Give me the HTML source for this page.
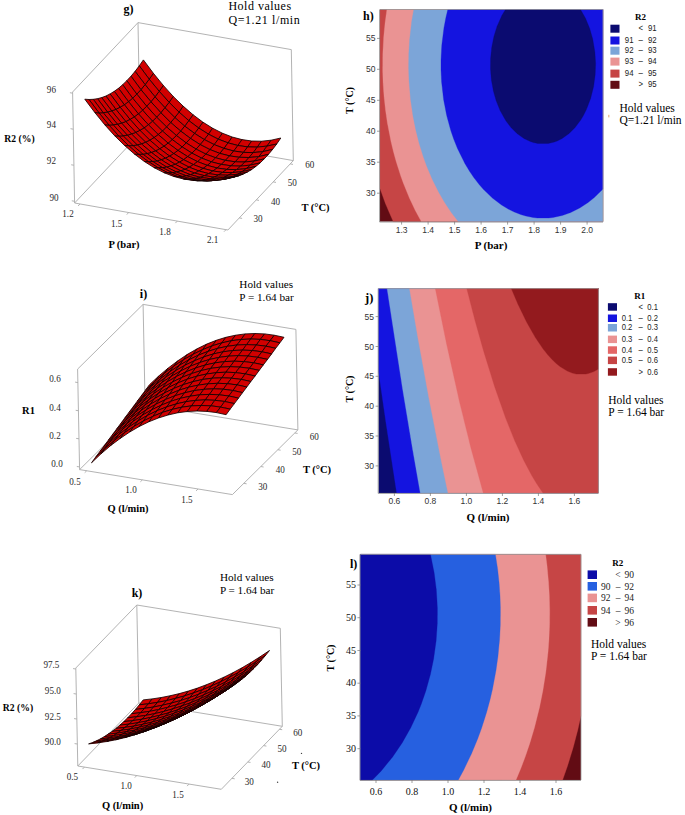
<!DOCTYPE html>
<html><head><meta charset="utf-8"><style>
html,body{margin:0;padding:0;background:#fff;}
body{width:685px;height:815px;overflow:hidden;}
svg{display:block;}
</style></head><body>
<svg width="685" height="815" viewBox="0 0 685 815">
<rect width="685" height="815" fill="#fff"/>
<rect x="380" y="9.5" width="223.00" height="212.10" fill="#620c14"/>
<path d="M380.0,9.5 380.0,188.5 385.4,203.5 393.2,221.6 603.0,221.6 603.0,9.5Z" fill="#c64545" stroke="#c64545" stroke-width="0.3"/>
<path d="M386.9,9.5 385.0,23.5 383.7,37.0 382.8,54.0 382.7,71.5 383.1,83.0 384.0,96.0 385.5,110.0 387.4,123.0 391.0,141.5 393.4,151.5 396.0,161.0 400.6,175.5 403.1,182.5 409.4,198.0 415.3,210.5 421.3,221.6 603.0,221.6 603.0,9.5Z" fill="#ea9393" stroke="#ea9393" stroke-width="0.3"/>
<path d="M413.8,9.5 411.7,21.5 409.6,40.0 408.8,53.5 408.6,67.0 409.0,80.5 410.6,99.5 413.0,116.0 415.7,129.5 419.1,143.0 423.1,156.0 426.7,166.0 432.4,179.5 438.9,192.5 445.0,203.0 451.7,213.0 458.3,221.6 603.0,221.6 603.0,9.5Z" fill="#7ca5d8" stroke="#7ca5d8" stroke-width="0.3"/>
<path d="M447.8,9.5 445.8,18.0 444.0,27.5 441.8,45.0 441.0,60.0 441.0,69.5 441.6,82.0 443.6,99.5 446.7,115.5 450.8,130.5 453.7,139.0 457.5,148.5 464.9,163.5 469.4,171.0 473.8,177.5 479.2,184.5 483.6,189.5 492.4,198.0 501.6,205.0 508.2,209.0 514.3,212.0 520.7,214.5 525.8,216.0 533.1,217.5 537.5,218.0 548.7,218.0 553.0,217.5 562.2,215.5 570.7,212.5 579.7,208.0 588.1,202.5 594.3,197.5 603.0,189.0 603.0,9.5Z" fill="#1414e0" stroke="#1414e0" stroke-width="0.3"/>
<path d="M505.5,9.5 501.9,15.5 497.0,26.5 493.9,36.5 491.7,47.5 490.6,58.5 490.5,69.0 491.4,80.0 493.4,91.0 496.1,100.5 500.1,110.5 505.7,120.5 511.0,127.5 517.0,133.5 524.0,138.5 530.3,141.5 533.3,142.5 537.9,143.5 548.2,143.5 554.4,142.0 557.1,141.0 562.1,138.5 569.1,133.5 575.1,127.5 580.7,120.0 583.4,115.5 586.4,109.5 590.6,98.5 593.6,86.5 595.2,74.5 595.6,63.5 594.9,52.0 592.7,39.0 589.7,28.5 585.6,18.5 580.5,9.5Z" fill="#0b0b70" stroke="#0b0b70" stroke-width="0.3"/>
<rect x="378.6" y="288.6" width="219.80" height="204.40" fill="#0b0b70"/>
<path d="M378.6,288.6 378.6,372.1 386.0,423.1 396.7,493.0 598.4,493.0 598.4,288.6Z" fill="#1414e0" stroke="#1414e0" stroke-width="0.3"/>
<path d="M387.1,288.6 402.7,389.6 412.5,448.6 420.3,493.0 598.4,493.0 598.4,288.6Z" fill="#7ca5d8" stroke="#7ca5d8" stroke-width="0.3"/>
<path d="M409.5,288.6 417.6,336.1 428.9,398.1 441.7,463.1 448.0,493.0 598.4,493.0 598.4,288.6Z" fill="#ea9393" stroke="#ea9393" stroke-width="0.3"/>
<path d="M435.3,288.6 446.5,343.6 459.7,402.6 471.2,449.1 483.3,493.0 598.4,493.0 598.4,288.6Z" fill="#e46767" stroke="#e46767" stroke-width="0.3"/>
<path d="M466.8,288.6 474.9,320.1 483.6,351.1 494.6,386.6 505.3,417.1 514.9,441.1 523.6,460.1 531.8,475.6 536.6,483.6 543.0,493.0 598.4,493.0 598.4,288.6Z" fill="#c64545" stroke="#c64545" stroke-width="0.3"/>
<path d="M511.3,288.6 517.9,304.1 526.6,322.1 535.4,337.6 543.2,349.1 548.0,355.1 552.1,359.6 556.3,363.6 560.0,366.6 567.3,371.1 572.3,373.1 576.4,374.1 585.8,374.1 588.2,373.6 593.9,371.6 598.4,369.1 598.4,288.6Z" fill="#931a1e" stroke="#931a1e" stroke-width="0.3"/>
<rect x="360.4" y="554.4" width="220.60" height="225.60" fill="#620c14"/>
<path d="M360.4,554.4 360.4,780.0 562.6,780.0 567.7,765.4 573.2,747.4 577.8,729.9 581.0,715.4 581.0,554.4Z" fill="#c64545" stroke="#c64545" stroke-width="0.3"/>
<path d="M360.4,554.4 360.4,780.0 516.0,779.9 521.2,767.4 525.5,755.9 529.9,742.9 534.5,727.4 539.6,706.9 543.0,689.9 545.9,671.4 548.1,651.4 549.0,638.9 549.6,623.9 549.7,609.9 549.3,594.9 548.6,582.9 547.1,566.4 545.6,554.4Z" fill="#ea9393" stroke="#ea9393" stroke-width="0.3"/>
<path d="M360.4,554.4 360.4,780.0 458.3,779.9 463.7,769.9 471.6,753.4 477.8,738.4 481.8,727.4 486.7,711.9 490.2,698.9 492.4,689.4 495.9,670.9 498.0,655.9 499.6,638.9 500.3,624.9 500.4,607.4 500.0,595.9 499.1,582.9 497.6,568.9 495.4,554.4Z" fill="#2660e0" stroke="#2660e0" stroke-width="0.3"/>
<path d="M360.4,554.4 360.4,780.0 372.4,780.0 381.2,770.9 392.6,756.9 402.1,742.9 410.6,727.9 418.1,711.9 421.3,703.9 425.8,690.9 430.5,673.9 433.6,658.9 436.1,640.9 437.3,623.4 437.4,607.9 436.3,589.4 434.1,572.4 430.5,554.4Z" fill="#0c0ca8" stroke="#0c0ca8" stroke-width="0.3"/>
<path d="M380,9.5 L603,9.5 L603,221.6" fill="none" stroke="#999" stroke-width="0.8"/>
<path d="M379.6,9.5 V222.0 H603" fill="none" stroke="#888" stroke-width="0.8"/>
<text x="401.6" y="232.5" font-family="Liberation Sans" font-size="8.5" text-anchor="middle" fill="#333">1.3</text>
<text x="428.1" y="232.5" font-family="Liberation Sans" font-size="8.5" text-anchor="middle" fill="#333">1.4</text>
<text x="454.6" y="232.5" font-family="Liberation Sans" font-size="8.5" text-anchor="middle" fill="#333">1.5</text>
<text x="481.1" y="232.5" font-family="Liberation Sans" font-size="8.5" text-anchor="middle" fill="#333">1.6</text>
<text x="507.6" y="232.5" font-family="Liberation Sans" font-size="8.5" text-anchor="middle" fill="#333">1.7</text>
<text x="534.1" y="232.5" font-family="Liberation Sans" font-size="8.5" text-anchor="middle" fill="#333">1.8</text>
<text x="560.6" y="232.5" font-family="Liberation Sans" font-size="8.5" text-anchor="middle" fill="#333">1.9</text>
<text x="587.1" y="232.5" font-family="Liberation Sans" font-size="8.5" text-anchor="middle" fill="#333">2.0</text>
<text x="375.5" y="196.2" font-family="Liberation Sans" font-size="8.5" text-anchor="end" fill="#333">30</text>
<text x="375.5" y="165.2" font-family="Liberation Sans" font-size="8.5" text-anchor="end" fill="#333">35</text>
<text x="375.5" y="134.2" font-family="Liberation Sans" font-size="8.5" text-anchor="end" fill="#333">40</text>
<text x="375.5" y="103.3" font-family="Liberation Sans" font-size="8.5" text-anchor="end" fill="#333">45</text>
<text x="375.5" y="72.3" font-family="Liberation Sans" font-size="8.5" text-anchor="end" fill="#333">50</text>
<text x="375.5" y="41.4" font-family="Liberation Sans" font-size="8.5" text-anchor="end" fill="#333">55</text>
<path d="M401.6,221.6 v3 M428.1,221.6 v3 M454.6,221.6 v3 M481.1,221.6 v3 M507.6,221.6 v3 M534.1,221.6 v3 M560.6,221.6 v3 M587.1,221.6 v3 M380,193.2 h-3 M380,162.2 h-3 M380,131.2 h-3 M380,100.3 h-3 M380,69.3 h-3 M380,38.4 h-3" stroke="#777" stroke-width="0.7"/>
<path d="M378.6,288.6 L598.4,288.6 L598.4,493" fill="none" stroke="#999" stroke-width="0.8"/>
<path d="M378.20000000000005,288.6 V493.4 H598.4" fill="none" stroke="#888" stroke-width="0.8"/>
<text x="394.4" y="504.0" font-family="Liberation Sans" font-size="8.5" text-anchor="middle" fill="#333">0.6</text>
<text x="430.4" y="504.0" font-family="Liberation Sans" font-size="8.5" text-anchor="middle" fill="#333">0.8</text>
<text x="466.4" y="504.0" font-family="Liberation Sans" font-size="8.5" text-anchor="middle" fill="#333">1.0</text>
<text x="502.4" y="504.0" font-family="Liberation Sans" font-size="8.5" text-anchor="middle" fill="#333">1.2</text>
<text x="538.4" y="504.0" font-family="Liberation Sans" font-size="8.5" text-anchor="middle" fill="#333">1.4</text>
<text x="574.4" y="504.0" font-family="Liberation Sans" font-size="8.5" text-anchor="middle" fill="#333">1.6</text>
<text x="374.0" y="468.9" font-family="Liberation Sans" font-size="8.5" text-anchor="end" fill="#333">30</text>
<text x="374.0" y="439.0" font-family="Liberation Sans" font-size="8.5" text-anchor="end" fill="#333">35</text>
<text x="374.0" y="409.2" font-family="Liberation Sans" font-size="8.5" text-anchor="end" fill="#333">40</text>
<text x="374.0" y="379.3" font-family="Liberation Sans" font-size="8.5" text-anchor="end" fill="#333">45</text>
<text x="374.0" y="349.5" font-family="Liberation Sans" font-size="8.5" text-anchor="end" fill="#333">50</text>
<text x="374.0" y="319.6" font-family="Liberation Sans" font-size="8.5" text-anchor="end" fill="#333">55</text>
<path d="M394.4,493 v3 M430.4,493 v3 M466.4,493 v3 M502.4,493 v3 M538.4,493 v3 M574.4,493 v3 M378.6,465.9 h-3 M378.6,436.0 h-3 M378.6,406.2 h-3 M378.6,376.3 h-3 M378.6,346.5 h-3 M378.6,316.6 h-3" stroke="#777" stroke-width="0.7"/>
<path d="M360.4,554.4 L581,554.4 L581,780" fill="none" stroke="#999" stroke-width="0.8"/>
<path d="M360.0,554.4 V780.4 H581" fill="none" stroke="#888" stroke-width="0.8"/>
<text x="376.0" y="794.5" font-family="Liberation Serif" font-size="10" text-anchor="middle" fill="#111">0.6</text>
<text x="412.0" y="794.5" font-family="Liberation Serif" font-size="10" text-anchor="middle" fill="#111">0.8</text>
<text x="448.0" y="794.5" font-family="Liberation Serif" font-size="10" text-anchor="middle" fill="#111">1.0</text>
<text x="484.0" y="794.5" font-family="Liberation Serif" font-size="10" text-anchor="middle" fill="#111">1.2</text>
<text x="520.0" y="794.5" font-family="Liberation Serif" font-size="10" text-anchor="middle" fill="#111">1.4</text>
<text x="556.0" y="794.5" font-family="Liberation Serif" font-size="10" text-anchor="middle" fill="#111">1.6</text>
<text x="356.0" y="751.7" font-family="Liberation Serif" font-size="10" text-anchor="end" fill="#111">30</text>
<text x="356.0" y="718.9" font-family="Liberation Serif" font-size="10" text-anchor="end" fill="#111">35</text>
<text x="356.0" y="686.2" font-family="Liberation Serif" font-size="10" text-anchor="end" fill="#111">40</text>
<text x="356.0" y="653.5" font-family="Liberation Serif" font-size="10" text-anchor="end" fill="#111">45</text>
<text x="356.0" y="620.7" font-family="Liberation Serif" font-size="10" text-anchor="end" fill="#111">50</text>
<text x="356.0" y="588.0" font-family="Liberation Serif" font-size="10" text-anchor="end" fill="#111">55</text>
<path d="M376.0,780 v3 M412.0,780 v3 M448.0,780 v3 M484.0,780 v3 M520.0,780 v3 M556.0,780 v3 M360.4,748.7 h-3 M360.4,715.9 h-3 M360.4,683.2 h-3 M360.4,650.5 h-3 M360.4,617.7 h-3 M360.4,585.0 h-3" stroke="#777" stroke-width="0.7"/>
<text x="363.0" y="20.0" font-family="Liberation Serif" font-size="12" font-weight="bold">h)</text>
<text x="491.0" y="248.5" font-family="Liberation Serif" font-size="11" font-weight="bold" text-anchor="middle">P (bar)</text>
<text x="488.0" y="520.5" font-family="Liberation Serif" font-size="11" font-weight="bold" text-anchor="middle">Q (l/min)</text>
<text x="470.5" y="811.0" font-family="Liberation Serif" font-size="11" font-weight="bold" text-anchor="middle">Q (l/min)</text>
<text x="365.0" y="301.5" font-family="Liberation Serif" font-size="12.5" font-weight="bold">j)</text>
<text x="350.0" y="568.0" font-family="Liberation Serif" font-size="12" font-weight="bold">l)</text>
<text x="352.5" y="100.5" font-family="Liberation Serif" font-size="10" font-weight="bold" text-anchor="middle" transform="rotate(-90 352.5 100.5)">T (°C)</text>
<text x="353" y="389" font-family="Liberation Serif" font-size="10" font-weight="bold" text-anchor="middle" transform="rotate(-90 353 389)">T (°C)</text>
<text x="333.5" y="658" font-family="Liberation Serif" font-size="10" font-weight="bold" text-anchor="middle" transform="rotate(-90 333.5 658)">T (°C)</text>
<text x="640.5" y="19.5" font-family="Liberation Serif" font-size="9" font-weight="bold" text-anchor="middle">R2</text>
<rect x="610.4" y="24.7" width="9.1" height="8" fill="#0b0b70"/>
<text transform="translate(640.7,31.3) scale(0.85,1)" font-family="Liberation Sans" font-size="9.2" text-anchor="middle" fill="#222">&lt;</text>
<text transform="translate(656.6,31.3) scale(0.85,1)" font-family="Liberation Sans" font-size="9.2" text-anchor="end" fill="#222">91</text>
<rect x="610.4" y="36.5" width="9.1" height="8" fill="#1414e0"/>
<text transform="translate(633.5,43.1) scale(0.85,1)" font-family="Liberation Sans" font-size="9.2" text-anchor="end" fill="#222">91</text>
<text transform="translate(640.7,43.1) scale(0.85,1)" font-family="Liberation Sans" font-size="9.2" text-anchor="middle" fill="#222">–</text>
<text transform="translate(656.6,43.1) scale(0.85,1)" font-family="Liberation Sans" font-size="9.2" text-anchor="end" fill="#222">92</text>
<rect x="610.4" y="46.7" width="9.1" height="8" fill="#7ca5d8"/>
<text transform="translate(633.5,53.3) scale(0.85,1)" font-family="Liberation Sans" font-size="9.2" text-anchor="end" fill="#222">92</text>
<text transform="translate(640.7,53.3) scale(0.85,1)" font-family="Liberation Sans" font-size="9.2" text-anchor="middle" fill="#222">–</text>
<text transform="translate(656.6,53.3) scale(0.85,1)" font-family="Liberation Sans" font-size="9.2" text-anchor="end" fill="#222">93</text>
<rect x="610.4" y="57.6" width="9.1" height="8" fill="#ea9393"/>
<text transform="translate(633.5,64.2) scale(0.85,1)" font-family="Liberation Sans" font-size="9.2" text-anchor="end" fill="#222">93</text>
<text transform="translate(640.7,64.2) scale(0.85,1)" font-family="Liberation Sans" font-size="9.2" text-anchor="middle" fill="#222">–</text>
<text transform="translate(656.6,64.2) scale(0.85,1)" font-family="Liberation Sans" font-size="9.2" text-anchor="end" fill="#222">94</text>
<rect x="610.4" y="69.6" width="9.1" height="8" fill="#c64545"/>
<text transform="translate(633.5,76.2) scale(0.85,1)" font-family="Liberation Sans" font-size="9.2" text-anchor="end" fill="#222">94</text>
<text transform="translate(640.7,76.2) scale(0.85,1)" font-family="Liberation Sans" font-size="9.2" text-anchor="middle" fill="#222">–</text>
<text transform="translate(656.6,76.2) scale(0.85,1)" font-family="Liberation Sans" font-size="9.2" text-anchor="end" fill="#222">95</text>
<rect x="610.4" y="80.8" width="9.1" height="8" fill="#620c14"/>
<text transform="translate(640.7,87.4) scale(0.85,1)" font-family="Liberation Sans" font-size="9.2" text-anchor="middle" fill="#222">&gt;</text>
<text transform="translate(656.6,87.4) scale(0.85,1)" font-family="Liberation Sans" font-size="9.2" text-anchor="end" fill="#222">95</text>
<text x="619.5" y="111.5" font-family="Liberation Serif" font-size="11.5">Hold values</text>
<text x="619.5" y="123.5" font-family="Liberation Serif" font-size="11.5">Q=1.21 l/min</text>
<text x="639.7" y="298.5" font-family="Liberation Serif" font-size="9" font-weight="bold" text-anchor="middle">R1</text>
<rect x="607.9" y="303.2" width="9.1" height="7.5" fill="#0b0b70"/>
<text transform="translate(640.7,309.5) scale(0.85,1)" font-family="Liberation Sans" font-size="9" text-anchor="middle" fill="#222">&lt;</text>
<text transform="translate(658.0,309.5) scale(0.85,1)" font-family="Liberation Sans" font-size="9" text-anchor="end" fill="#222">0.1</text>
<rect x="607.9" y="314.5" width="9.1" height="7.5" fill="#1414e0"/>
<text transform="translate(632.3,320.8) scale(0.85,1)" font-family="Liberation Sans" font-size="9" text-anchor="end" fill="#222">0.1</text>
<text transform="translate(640.7,320.8) scale(0.85,1)" font-family="Liberation Sans" font-size="9" text-anchor="middle" fill="#222">–</text>
<text transform="translate(658.0,320.8) scale(0.85,1)" font-family="Liberation Sans" font-size="9" text-anchor="end" fill="#222">0.2</text>
<rect x="607.9" y="324" width="9.1" height="7.5" fill="#7ca5d8"/>
<text transform="translate(632.3,330.3) scale(0.85,1)" font-family="Liberation Sans" font-size="9" text-anchor="end" fill="#222">0.2</text>
<text transform="translate(640.7,330.3) scale(0.85,1)" font-family="Liberation Sans" font-size="9" text-anchor="middle" fill="#222">–</text>
<text transform="translate(658.0,330.3) scale(0.85,1)" font-family="Liberation Sans" font-size="9" text-anchor="end" fill="#222">0.3</text>
<rect x="607.9" y="335.6" width="9.1" height="7.5" fill="#ea9393"/>
<text transform="translate(632.3,341.9) scale(0.85,1)" font-family="Liberation Sans" font-size="9" text-anchor="end" fill="#222">0.3</text>
<text transform="translate(640.7,341.9) scale(0.85,1)" font-family="Liberation Sans" font-size="9" text-anchor="middle" fill="#222">–</text>
<text transform="translate(658.0,341.9) scale(0.85,1)" font-family="Liberation Sans" font-size="9" text-anchor="end" fill="#222">0.4</text>
<rect x="607.9" y="346.3" width="9.1" height="7.5" fill="#e46767"/>
<text transform="translate(632.3,352.6) scale(0.85,1)" font-family="Liberation Sans" font-size="9" text-anchor="end" fill="#222">0.4</text>
<text transform="translate(640.7,352.6) scale(0.85,1)" font-family="Liberation Sans" font-size="9" text-anchor="middle" fill="#222">–</text>
<text transform="translate(658.0,352.6) scale(0.85,1)" font-family="Liberation Sans" font-size="9" text-anchor="end" fill="#222">0.5</text>
<rect x="607.9" y="356.6" width="9.1" height="7.5" fill="#c64545"/>
<text transform="translate(632.3,362.9) scale(0.85,1)" font-family="Liberation Sans" font-size="9" text-anchor="end" fill="#222">0.5</text>
<text transform="translate(640.7,362.9) scale(0.85,1)" font-family="Liberation Sans" font-size="9" text-anchor="middle" fill="#222">–</text>
<text transform="translate(658.0,362.9) scale(0.85,1)" font-family="Liberation Sans" font-size="9" text-anchor="end" fill="#222">0.6</text>
<rect x="607.9" y="368.2" width="9.1" height="7.5" fill="#931a1e"/>
<text transform="translate(640.7,374.5) scale(0.85,1)" font-family="Liberation Sans" font-size="9" text-anchor="middle" fill="#222">&gt;</text>
<text transform="translate(658.0,374.5) scale(0.85,1)" font-family="Liberation Sans" font-size="9" text-anchor="end" fill="#222">0.6</text>
<text x="608.3" y="403.8" font-family="Liberation Serif" font-size="11.5">Hold values</text>
<text x="608.3" y="415.8" font-family="Liberation Serif" font-size="11.5">P = 1.64 bar</text>
<text x="617.8" y="565.5" font-family="Liberation Serif" font-size="9" font-weight="bold" text-anchor="middle">R2</text>
<rect x="587.6" y="570.4" width="9.4" height="8.6" fill="#0c0ca8"/>
<text x="618.0" y="578.0" font-family="Liberation Serif" font-size="9.5" text-anchor="middle" fill="#222">&lt;</text>
<text x="634.0" y="578.0" font-family="Liberation Serif" font-size="9.5" text-anchor="end" fill="#222">90</text>
<rect x="587.6" y="582" width="9.4" height="8.6" fill="#2660e0"/>
<text x="610.4" y="589.6" font-family="Liberation Serif" font-size="9.5" text-anchor="end" fill="#222">90</text>
<text x="618.0" y="589.6" font-family="Liberation Serif" font-size="9.5" text-anchor="middle" fill="#222">–</text>
<text x="634.0" y="589.6" font-family="Liberation Serif" font-size="9.5" text-anchor="end" fill="#222">92</text>
<rect x="587.6" y="593.6" width="9.4" height="8.6" fill="#ea9393"/>
<text x="610.4" y="601.2" font-family="Liberation Serif" font-size="9.5" text-anchor="end" fill="#222">92</text>
<text x="618.0" y="601.2" font-family="Liberation Serif" font-size="9.5" text-anchor="middle" fill="#222">–</text>
<text x="634.0" y="601.2" font-family="Liberation Serif" font-size="9.5" text-anchor="end" fill="#222">94</text>
<rect x="587.6" y="606" width="9.4" height="8.6" fill="#c64545"/>
<text x="610.4" y="613.6" font-family="Liberation Serif" font-size="9.5" text-anchor="end" fill="#222">94</text>
<text x="618.0" y="613.6" font-family="Liberation Serif" font-size="9.5" text-anchor="middle" fill="#222">–</text>
<text x="634.0" y="613.6" font-family="Liberation Serif" font-size="9.5" text-anchor="end" fill="#222">96</text>
<rect x="587.6" y="618" width="9.4" height="8.6" fill="#620c14"/>
<text x="618.0" y="625.6" font-family="Liberation Serif" font-size="9.5" text-anchor="middle" fill="#222">&gt;</text>
<text x="634.0" y="625.6" font-family="Liberation Serif" font-size="9.5" text-anchor="end" fill="#222">96</text>
<text x="591.0" y="648.3" font-family="Liberation Serif" font-size="11.5">Hold values</text>
<text x="591.0" y="660.3" font-family="Liberation Serif" font-size="11.5">P = 1.64 bar</text>
<path d="M74.6,203.0 L227.9,230.0 M227.9,230.0 L293.3,160.6 M293.3,160.6 L140.0,133.6 M140.0,133.6 L74.6,203.0 M74.6,203.0 L72.6,92.0 M72.6,92.0 L138.0,22.6 M138.0,22.6 L291.3,49.6 M140.0,133.6 L138.0,22.6 M293.3,160.6 L291.3,49.6 M80.0,204.0 L78.1,206.0 M128.7,212.5 L126.8,214.6 M177.3,221.1 L175.4,223.1 M226.0,229.7 L224.0,231.7 M239.3,217.9 L242.1,218.4 M256.3,199.9 L259.0,200.4 M273.2,181.9 L276.0,182.4 M290.2,163.9 L293.0,164.4 M74.6,201.3 L71.8,200.8 M73.9,165.2 L71.2,164.8 M73.3,129.2 L70.5,128.7 M72.6,93.2 L69.9,92.7" fill="none" stroke="#aaaaaa" stroke-width="0.9"/>
<g fill="#d20000" stroke="#150000" stroke-width="0.85" stroke-linejoin="round"><path d="M198.7,128.0 208.5,134.2 212.6,128.2 202.8,122.1Z"/><path d="M208.5,134.2 218.3,139.2 222.4,133.2 212.6,128.2Z"/><path d="M188.8,120.6 198.7,128.0 202.8,122.1 193.0,114.7Z"/><path d="M218.3,139.2 228.1,142.9 232.2,137.0 222.4,133.2Z"/><path d="M179.0,112.1 188.8,120.6 193.0,114.7 183.1,106.1Z"/><path d="M228.1,142.9 237.9,145.5 242.0,139.6 232.2,137.0Z"/><path d="M169.1,102.3 179.0,112.1 183.1,106.1 173.2,96.4Z"/><path d="M194.5,133.4 204.4,139.6 208.5,134.2 198.7,128.0Z"/><path d="M237.9,145.5 247.6,146.9 251.7,141.0 242.0,139.6Z"/><path d="M204.4,139.6 214.2,144.6 218.3,139.2 208.5,134.2Z"/><path d="M184.7,126.1 194.5,133.4 198.7,128.0 188.8,120.6Z"/><path d="M214.2,144.6 224.0,148.4 228.1,142.9 218.3,139.2Z"/><path d="M159.2,91.3 169.1,102.3 173.2,96.4 163.3,85.4Z"/><path d="M174.8,117.5 184.7,126.1 188.8,120.6 179.0,112.1Z"/><path d="M224.0,148.4 233.7,151.0 237.9,145.5 228.1,142.9Z"/><path d="M247.6,146.9 257.3,147.1 261.5,141.2 251.7,141.0Z"/><path d="M164.9,107.7 174.8,117.5 179.0,112.1 169.1,102.3Z"/><path d="M149.2,79.2 159.2,91.3 163.3,85.4 153.4,73.3Z"/><path d="M233.7,151.0 243.5,152.4 247.6,146.9 237.9,145.5Z"/><path d="M190.4,138.4 200.2,144.6 204.4,139.6 194.5,133.4Z"/><path d="M200.2,144.6 210.0,149.6 214.2,144.6 204.4,139.6Z"/><path d="M180.6,131.0 190.4,138.4 194.5,133.4 184.7,126.1Z"/><path d="M155.0,96.8 164.9,107.7 169.1,102.3 159.2,91.3Z"/><path d="M210.0,149.6 219.8,153.4 224.0,148.4 214.2,144.6Z"/><path d="M257.3,147.1 267.0,146.1 271.1,140.2 261.5,141.2Z"/><path d="M170.7,122.5 180.6,131.0 184.7,126.1 174.8,117.5Z"/><path d="M219.8,153.4 229.6,155.9 233.7,151.0 224.0,148.4Z"/><path d="M243.5,152.4 253.2,152.6 257.3,147.1 247.6,146.9Z"/><path d="M139.3,65.8 149.2,79.2 153.4,73.3 143.4,59.9Z"/><path d="M160.8,112.7 170.7,122.5 174.8,117.5 164.9,107.7Z"/><path d="M145.1,84.6 155.0,96.8 159.2,91.3 149.2,79.2Z"/><path d="M229.6,155.9 239.3,157.3 243.5,152.4 233.7,151.0Z"/><path d="M186.2,142.9 196.1,149.1 200.2,144.6 190.4,138.4Z"/><path d="M196.1,149.1 205.9,154.1 210.0,149.6 200.2,144.6Z"/><path d="M176.4,135.5 186.2,142.9 190.4,138.4 180.6,131.0Z"/><path d="M267.0,146.1 276.7,144.0 280.8,138.0 271.1,140.2Z"/><path d="M150.9,101.7 160.8,112.7 164.9,107.7 155.0,96.8Z"/><path d="M253.2,152.6 262.9,151.6 267.0,146.1 257.3,147.1Z"/><path d="M205.9,154.1 215.7,157.8 219.8,153.4 210.0,149.6Z"/><path d="M166.5,126.9 176.4,135.5 180.6,131.0 170.7,122.5Z"/><path d="M239.3,157.3 249.0,157.5 253.2,152.6 243.5,152.4Z"/><path d="M215.7,157.8 225.4,160.4 229.6,155.9 219.8,153.4Z"/><path d="M135.1,71.3 145.1,84.6 149.2,79.2 139.3,65.8Z"/><path d="M156.6,117.2 166.5,126.9 170.7,122.5 160.8,112.7Z"/><path d="M140.9,89.6 150.9,101.7 155.0,96.8 145.1,84.6Z"/><path d="M225.4,160.4 235.2,161.8 239.3,157.3 229.6,155.9Z"/><path d="M262.9,151.6 272.6,149.4 276.7,144.0 267.0,146.1Z"/><path d="M182.1,146.9 191.9,153.1 196.1,149.1 186.2,142.9Z"/><path d="M191.9,153.1 201.7,158.1 205.9,154.1 196.1,149.1Z"/><path d="M146.7,106.2 156.6,117.2 160.8,112.7 150.9,101.7Z"/><path d="M249.0,157.5 258.7,156.6 262.9,151.6 253.2,152.6Z"/><path d="M172.2,139.5 182.1,146.9 186.2,142.9 176.4,135.5Z"/><path d="M201.7,158.1 211.5,161.9 215.7,157.8 205.9,154.1Z"/><path d="M162.4,131.0 172.2,139.5 176.4,135.5 166.5,126.9Z"/><path d="M235.2,161.8 244.9,162.0 249.0,157.5 239.3,157.3Z"/><path d="M131.0,76.2 140.9,89.6 145.1,84.6 135.1,71.3Z"/><path d="M211.5,161.9 221.3,164.4 225.4,160.4 215.7,157.8Z"/><path d="M152.5,121.2 162.4,131.0 166.5,126.9 156.6,117.2Z"/><path d="M136.8,94.1 146.7,106.2 150.9,101.7 140.9,89.6Z"/><path d="M258.7,156.6 268.4,154.4 272.6,149.4 262.9,151.6Z"/><path d="M221.3,164.4 231.0,165.8 235.2,161.8 225.4,160.4Z"/><path d="M244.9,162.0 254.6,161.0 258.7,156.6 249.0,157.5Z"/><path d="M177.9,150.4 187.7,156.6 191.9,153.1 182.1,146.9Z"/><path d="M142.6,110.2 152.5,121.2 156.6,117.2 146.7,106.2Z"/><path d="M187.7,156.6 197.5,161.6 201.7,158.1 191.9,153.1Z"/><path d="M168.1,143.1 177.9,150.4 182.1,146.9 172.2,139.5Z"/><path d="M197.5,161.6 207.3,165.4 211.5,161.9 201.7,158.1Z"/><path d="M158.2,134.5 168.1,143.1 172.2,139.5 162.4,131.0Z"/><path d="M126.8,80.7 136.8,94.1 140.9,89.6 131.0,76.2Z"/><path d="M231.0,165.8 240.7,166.1 244.9,162.0 235.2,161.8Z"/><path d="M207.3,165.4 217.1,168.0 221.3,164.4 211.5,161.9Z"/><path d="M132.6,98.1 142.6,110.2 146.7,106.2 136.8,94.1Z"/><path d="M148.3,124.7 158.2,134.5 162.4,131.0 152.5,121.2Z"/><path d="M254.6,161.0 264.2,158.9 268.4,154.4 258.7,156.6Z"/><path d="M217.1,168.0 226.8,169.4 231.0,165.8 221.3,164.4Z"/><path d="M240.7,166.1 250.4,165.1 254.6,161.0 244.9,162.0Z"/><path d="M138.4,113.8 148.3,124.7 152.5,121.2 142.6,110.2Z"/><path d="M173.7,153.5 183.6,159.7 187.7,156.6 177.9,150.4Z"/><path d="M183.6,159.7 193.4,164.6 197.5,161.6 187.7,156.6Z"/><path d="M163.9,146.1 173.7,153.5 177.9,150.4 168.1,143.1Z"/><path d="M193.4,164.6 203.1,168.4 207.3,165.4 197.5,161.6Z"/><path d="M122.7,84.7 132.6,98.1 136.8,94.1 126.8,80.7Z"/><path d="M226.8,169.4 236.5,169.6 240.7,166.1 231.0,165.8Z"/><path d="M154.0,137.5 163.9,146.1 168.1,143.1 158.2,134.5Z"/><path d="M203.1,168.4 212.9,171.0 217.1,168.0 207.3,165.4Z"/><path d="M128.5,101.6 138.4,113.8 142.6,110.2 132.6,98.1Z"/><path d="M144.1,127.8 154.0,137.5 158.2,134.5 148.3,124.7Z"/><path d="M250.4,165.1 260.1,162.9 264.2,158.9 254.6,161.0Z"/><path d="M212.9,171.0 222.6,172.4 226.8,169.4 217.1,168.0Z"/><path d="M236.5,169.6 246.2,168.6 250.4,165.1 240.7,166.1Z"/><path d="M134.2,116.8 144.1,127.8 148.3,124.7 138.4,113.8Z"/><path d="M169.5,156.0 179.4,162.2 183.6,159.7 173.7,153.5Z"/><path d="M179.4,162.2 189.2,167.2 193.4,164.6 183.6,159.7Z"/><path d="M159.7,148.7 169.5,156.0 173.7,153.5 163.9,146.1Z"/><path d="M118.5,88.3 128.5,101.6 132.6,98.1 122.7,84.7Z"/><path d="M189.2,167.2 198.9,171.0 203.1,168.4 193.4,164.6Z"/><path d="M222.6,172.4 232.4,172.6 236.5,169.6 226.8,169.4Z"/><path d="M149.8,140.1 159.7,148.7 163.9,146.1 154.0,137.5Z"/><path d="M198.9,171.0 208.7,173.6 212.9,171.0 203.1,168.4Z"/><path d="M124.3,104.7 134.2,116.8 138.4,113.8 128.5,101.6Z"/><path d="M246.2,168.6 255.9,166.4 260.1,162.9 250.4,165.1Z"/><path d="M139.9,130.3 149.8,140.1 154.0,137.5 144.1,127.8Z"/><path d="M208.7,173.6 218.4,175.0 222.6,172.4 212.9,171.0Z"/><path d="M232.4,172.6 242.1,171.6 246.2,168.6 236.5,169.6Z"/><path d="M130.0,119.4 139.9,130.3 144.1,127.8 134.2,116.8Z"/><path d="M165.3,158.1 175.2,164.3 179.4,162.2 169.5,156.0Z"/><path d="M114.3,91.3 124.3,104.7 128.5,101.6 118.5,88.3Z"/><path d="M175.2,164.3 185.0,169.3 189.2,167.2 179.4,162.2Z"/><path d="M155.5,150.8 165.3,158.1 169.5,156.0 159.7,148.7Z"/><path d="M185.0,169.3 194.7,173.1 198.9,171.0 189.2,167.2Z"/><path d="M218.4,175.0 228.2,175.2 232.4,172.6 222.6,172.4Z"/><path d="M145.6,142.2 155.5,150.8 159.7,148.7 149.8,140.1Z"/><path d="M120.1,107.2 130.0,119.4 134.2,116.8 124.3,104.7Z"/><path d="M242.1,171.6 251.7,169.5 255.9,166.4 246.2,168.6Z"/><path d="M194.7,173.1 204.5,175.7 208.7,173.6 198.9,171.0Z"/><path d="M135.7,132.4 145.6,142.2 149.8,140.1 139.9,130.3Z"/><path d="M228.2,175.2 237.9,174.2 242.1,171.6 232.4,172.6Z"/><path d="M204.5,175.7 214.2,177.1 218.4,175.0 208.7,173.6Z"/><path d="M125.8,121.5 135.7,132.4 139.9,130.3 130.0,119.4Z"/><path d="M110.1,93.9 120.1,107.2 124.3,104.7 114.3,91.3Z"/><path d="M161.1,159.7 171.0,165.9 175.2,164.3 165.3,158.1Z"/><path d="M171.0,165.9 180.8,170.9 185.0,169.3 175.2,164.3Z"/><path d="M151.3,152.4 161.1,159.7 165.3,158.1 155.5,150.8Z"/><path d="M214.2,177.1 224.0,177.3 228.2,175.2 218.4,175.0Z"/><path d="M180.8,170.9 190.5,174.7 194.7,173.1 185.0,169.3Z"/><path d="M141.4,143.8 151.3,152.4 155.5,150.8 145.6,142.2Z"/><path d="M237.9,174.2 247.5,172.0 251.7,169.5 242.1,171.6Z"/><path d="M115.9,109.3 125.8,121.5 130.0,119.4 120.1,107.2Z"/><path d="M190.5,174.7 200.3,177.3 204.5,175.7 194.7,173.1Z"/><path d="M131.5,134.0 141.4,143.8 145.6,142.2 135.7,132.4Z"/><path d="M224.0,177.3 233.7,176.3 237.9,174.2 228.2,175.2Z"/><path d="M200.3,177.3 210.0,178.7 214.2,177.1 204.5,175.7Z"/><path d="M121.6,123.1 131.5,134.0 135.7,132.4 125.8,121.5Z"/><path d="M105.9,96.0 115.9,109.3 120.1,107.2 110.1,93.9Z"/><path d="M156.9,160.9 166.7,167.1 171.0,165.9 161.1,159.7Z"/><path d="M166.7,167.1 176.5,172.0 180.8,170.9 171.0,165.9Z"/><path d="M147.1,153.5 156.9,160.9 161.1,159.7 151.3,152.4Z"/><path d="M210.0,178.7 219.8,178.9 224.0,177.3 214.2,177.1Z"/><path d="M176.5,172.0 186.3,175.8 190.5,174.7 180.8,170.9Z"/><path d="M233.7,176.3 243.3,174.1 247.5,172.0 237.9,174.2Z"/><path d="M137.2,144.9 147.1,153.5 151.3,152.4 141.4,143.8Z"/><path d="M111.7,110.9 121.6,123.1 125.8,121.5 115.9,109.3Z"/><path d="M186.3,175.8 196.1,178.4 200.3,177.3 190.5,174.7Z"/><path d="M127.3,135.2 137.2,144.9 141.4,143.8 131.5,134.0Z"/><path d="M219.8,178.9 229.5,177.9 233.7,176.3 224.0,177.3Z"/><path d="M196.1,178.4 205.8,179.8 210.0,178.7 200.3,177.3Z"/><path d="M101.7,97.6 111.7,110.9 115.9,109.3 105.9,96.0Z"/><path d="M117.4,124.2 127.3,135.2 131.5,134.0 121.6,123.1Z"/><path d="M152.7,161.5 162.5,167.7 166.7,167.1 156.9,160.9Z"/><path d="M162.5,167.7 172.3,172.7 176.5,172.0 166.7,167.1Z"/><path d="M205.8,179.8 215.5,180.0 219.8,178.9 210.0,178.7Z"/><path d="M142.8,154.1 152.7,161.5 156.9,160.9 147.1,153.5Z"/><path d="M229.5,177.9 239.1,175.7 243.3,174.1 233.7,176.3Z"/><path d="M172.3,172.7 182.1,176.5 186.3,175.8 176.5,172.0Z"/><path d="M133.0,145.6 142.8,154.1 147.1,153.5 137.2,144.9Z"/><path d="M107.5,112.0 117.4,124.2 121.6,123.1 111.7,110.9Z"/><path d="M182.1,176.5 191.9,179.1 196.1,178.4 186.3,175.8Z"/><path d="M123.1,135.8 133.0,145.6 137.2,144.9 127.3,135.2Z"/><path d="M215.5,180.0 225.2,179.1 229.5,177.9 219.8,178.9Z"/><path d="M191.9,179.1 201.6,180.5 205.8,179.8 196.1,178.4Z"/><path d="M97.5,98.7 107.5,112.0 111.7,110.9 101.7,97.6Z"/><path d="M113.2,124.8 123.1,135.8 127.3,135.2 117.4,124.2Z"/><path d="M148.5,161.7 158.3,167.9 162.5,167.7 152.7,161.5Z"/><path d="M201.6,180.5 211.3,180.7 215.5,180.0 205.8,179.8Z"/><path d="M158.3,167.9 168.1,172.9 172.3,172.7 162.5,167.7Z"/><path d="M225.2,179.1 234.9,176.9 239.1,175.7 229.5,177.9Z"/><path d="M138.6,154.3 148.5,161.7 152.7,161.5 142.8,154.1Z"/><path d="M168.1,172.9 177.9,176.7 182.1,176.5 172.3,172.7Z"/><path d="M103.2,112.7 113.2,124.8 117.4,124.2 107.5,112.0Z"/><path d="M128.7,145.7 138.6,154.3 142.8,154.1 133.0,145.6Z"/><path d="M177.9,176.7 187.6,179.3 191.9,179.1 182.1,176.5Z"/><path d="M118.8,136.0 128.7,145.7 133.0,145.6 123.1,135.8Z"/><path d="M211.3,180.7 221.0,179.7 225.2,179.1 215.5,180.0Z"/><path d="M187.6,179.3 197.4,180.7 201.6,180.5 191.9,179.1Z"/><path d="M93.3,99.3 103.2,112.7 107.5,112.0 97.5,98.7Z"/><path d="M108.9,125.0 118.8,136.0 123.1,135.8 113.2,124.8Z"/><path d="M197.4,180.7 207.1,180.9 211.3,180.7 201.6,180.5Z"/><path d="M221.0,179.7 230.7,177.5 234.9,176.9 225.2,179.1Z"/><path d="M144.2,161.4 154.0,167.6 158.3,167.9 148.5,161.7Z"/><path d="M154.0,167.6 163.8,172.6 168.1,172.9 158.3,167.9Z"/><path d="M134.4,154.0 144.2,161.4 148.5,161.7 138.6,154.3Z"/><path d="M163.8,172.6 173.6,176.4 177.9,176.7 168.1,172.9Z"/><path d="M99.0,112.9 108.9,125.0 113.2,124.8 103.2,112.7Z"/><path d="M124.5,145.4 134.4,154.0 138.6,154.3 128.7,145.7Z"/><path d="M173.6,176.4 183.4,179.0 187.6,179.3 177.9,176.7Z"/><path d="M207.1,180.9 216.8,179.9 221.0,179.7 211.3,180.7Z"/><path d="M114.6,135.7 124.5,145.4 128.7,145.7 118.8,136.0Z"/><path d="M183.4,179.0 193.1,180.4 197.4,180.7 187.6,179.3Z"/><path d="M89.0,99.5 99.0,112.9 103.2,112.7 93.3,99.3Z"/><path d="M104.7,124.7 114.6,135.7 118.8,136.0 108.9,125.0Z"/><path d="M216.8,179.9 226.5,177.7 230.7,177.5 221.0,179.7Z"/><path d="M193.1,180.4 202.8,180.6 207.1,180.9 197.4,180.7Z"/><path d="M94.8,112.5 104.7,124.7 108.9,125.0 99.0,112.9Z"/><path d="M202.8,180.6 212.5,179.6 216.8,179.9 207.1,180.9Z"/><path d="M84.8,99.2 94.8,112.5 99.0,112.9 89.0,99.5Z"/><path d="M212.5,179.6 222.2,177.4 226.5,177.7 216.8,179.9Z"/></g>
<path d="M79.6,469.6 L232.4,494.6 M232.4,494.6 L297.9,429.9 M297.9,429.9 L145.1,404.9 M145.1,404.9 L79.6,469.6 M79.6,469.6 L77.6,369.1 M77.6,369.1 L143.1,304.4 M143.1,304.4 L295.9,329.4 M145.1,404.9 L143.1,304.4 M297.9,429.9 L295.9,329.4 M86.7,470.8 L84.7,472.7 M142.4,479.9 L140.4,481.8 M198.0,489.0 L196.1,490.9 M243.8,483.3 L246.6,483.8 M260.8,466.5 L263.6,467.0 M277.8,449.7 L280.6,450.2 M294.8,433.0 L297.6,433.4 M79.5,466.9 L76.8,466.5 M79.0,438.8 L76.2,438.4 M78.4,410.7 L75.7,410.3 M77.9,382.6 L75.1,382.1" fill="none" stroke="#aaaaaa" stroke-width="0.9"/>
<g fill="#d20000" stroke="#150000" stroke-width="0.85" stroke-linejoin="round"><path d="M145.3,390.4 154.8,381.5 158.9,375.9 149.4,384.8Z"/><path d="M141.1,396.0 150.6,387.0 154.8,381.5 145.3,390.4Z"/><path d="M154.8,381.5 164.3,373.4 168.4,367.9 158.9,375.9Z"/><path d="M137.0,401.5 146.5,392.6 150.6,387.0 141.1,396.0Z"/><path d="M150.6,387.0 160.2,379.0 164.3,373.4 154.8,381.5Z"/><path d="M132.9,407.1 142.4,398.2 146.5,392.6 137.0,401.5Z"/><path d="M164.3,373.4 173.8,366.2 178.0,360.7 168.4,367.9Z"/><path d="M146.5,392.6 156.0,384.5 160.2,379.0 150.6,387.0Z"/><path d="M128.7,412.7 138.2,403.7 142.4,398.2 132.9,407.1Z"/><path d="M160.2,379.0 169.7,371.8 173.8,366.2 164.3,373.4Z"/><path d="M142.4,398.2 151.9,390.1 156.0,384.5 146.5,392.6Z"/><path d="M124.6,418.2 134.1,409.3 138.2,403.7 128.7,412.7Z"/><path d="M173.8,366.2 183.4,359.8 187.5,354.3 178.0,360.7Z"/><path d="M156.0,384.5 165.6,377.3 169.7,371.8 160.2,379.0Z"/><path d="M138.2,403.7 147.8,395.7 151.9,390.1 142.4,398.2Z"/><path d="M120.5,423.8 130.0,414.9 134.1,409.3 124.6,418.2Z"/><path d="M169.7,371.8 179.3,365.4 183.4,359.8 173.8,366.2Z"/><path d="M151.9,390.1 161.4,382.9 165.6,377.3 156.0,384.5Z"/><path d="M134.1,409.3 143.6,401.2 147.8,395.7 138.2,403.7Z"/><path d="M116.3,429.4 125.8,420.4 130.0,414.9 120.5,423.8Z"/><path d="M183.4,359.8 193.0,354.3 197.1,348.8 187.5,354.3Z"/><path d="M165.6,377.3 175.1,371.0 179.3,365.4 169.7,371.8Z"/><path d="M147.8,395.7 157.3,388.4 161.4,382.9 151.9,390.1Z"/><path d="M130.0,414.9 139.5,406.8 143.6,401.2 134.1,409.3Z"/><path d="M112.2,434.9 121.7,426.0 125.8,420.4 116.3,429.4Z"/><path d="M179.3,365.4 188.8,359.9 193.0,354.3 183.4,359.8Z"/><path d="M161.4,382.9 171.0,376.5 175.1,371.0 165.6,377.3Z"/><path d="M193.0,354.3 202.6,349.7 206.7,344.1 197.1,348.8Z"/><path d="M143.6,401.2 153.2,394.0 157.3,388.4 147.8,395.7Z"/><path d="M125.8,420.4 135.3,412.4 139.5,406.8 130.0,414.9Z"/><path d="M108.1,440.5 117.6,431.6 121.7,426.0 112.2,434.9Z"/><path d="M175.1,371.0 184.7,365.4 188.8,359.9 179.3,365.4Z"/><path d="M157.3,388.4 166.8,382.1 171.0,376.5 161.4,382.9Z"/><path d="M188.8,359.9 198.4,355.2 202.6,349.7 193.0,354.3Z"/><path d="M139.5,406.8 149.0,399.6 153.2,394.0 143.6,401.2Z"/><path d="M202.6,349.7 212.2,345.8 216.3,340.3 206.7,344.1Z"/><path d="M121.7,426.0 131.2,417.9 135.3,412.4 125.8,420.4Z"/><path d="M103.9,446.1 113.4,437.1 117.6,431.6 108.1,440.5Z"/><path d="M171.0,376.5 180.6,371.0 184.7,365.4 175.1,371.0Z"/><path d="M153.2,394.0 162.7,387.6 166.8,382.1 157.3,388.4Z"/><path d="M184.7,365.4 194.3,360.8 198.4,355.2 188.8,359.9Z"/><path d="M135.3,412.4 144.9,405.1 149.0,399.6 139.5,406.8Z"/><path d="M198.4,355.2 208.0,351.4 212.2,345.8 202.6,349.7Z"/><path d="M117.6,431.6 127.1,423.5 131.2,417.9 121.7,426.0Z"/><path d="M99.8,451.6 109.3,442.7 113.4,437.1 103.9,446.1Z"/><path d="M166.8,382.1 176.4,376.5 180.6,371.0 171.0,376.5Z"/><path d="M212.2,345.8 221.8,342.9 225.9,337.3 216.3,340.3Z"/><path d="M149.0,399.6 158.6,393.2 162.7,387.6 153.2,394.0Z"/><path d="M180.6,371.0 190.1,366.3 194.3,360.8 184.7,365.4Z"/><path d="M131.2,417.9 140.8,410.7 144.9,405.1 135.3,412.4Z"/><path d="M194.3,360.8 203.9,356.9 208.0,351.4 198.4,355.2Z"/><path d="M113.4,437.1 122.9,429.0 127.1,423.5 117.6,431.6Z"/><path d="M95.6,457.2 105.2,448.3 109.3,442.7 99.8,451.6Z"/><path d="M162.7,387.6 172.3,382.1 176.4,376.5 166.8,382.1Z"/><path d="M208.0,351.4 217.6,348.4 221.8,342.9 212.2,345.8Z"/><path d="M221.8,342.9 231.4,340.7 235.6,335.2 225.9,337.3Z"/><path d="M144.9,405.1 154.4,398.7 158.6,393.2 149.0,399.6Z"/><path d="M176.4,376.5 186.0,371.9 190.1,366.3 180.6,371.0Z"/><path d="M127.1,423.5 136.6,416.2 140.8,410.7 131.2,417.9Z"/><path d="M109.3,442.7 118.8,434.6 122.9,429.0 113.4,437.1Z"/><path d="M190.1,366.3 199.8,362.5 203.9,356.9 194.3,360.8Z"/><path d="M91.5,462.8 101.0,453.8 105.2,448.3 95.6,457.2Z"/><path d="M158.6,393.2 168.1,387.6 172.3,382.1 162.7,387.6Z"/><path d="M203.9,356.9 213.5,353.9 217.6,348.4 208.0,351.4Z"/><path d="M231.4,340.7 241.1,339.5 245.2,333.9 235.6,335.2Z"/><path d="M217.6,348.4 227.3,346.3 231.4,340.7 221.8,342.9Z"/><path d="M140.8,410.7 150.3,404.3 154.4,398.7 144.9,405.1Z"/><path d="M172.3,382.1 181.9,377.4 186.0,371.9 176.4,376.5Z"/><path d="M122.9,429.0 132.5,421.8 136.6,416.2 127.1,423.5Z"/><path d="M105.2,448.3 114.7,440.2 118.8,434.6 109.3,442.7Z"/><path d="M186.0,371.9 195.6,368.0 199.8,362.5 190.1,366.3Z"/><path d="M154.4,398.7 164.0,393.2 168.1,387.6 158.6,393.2Z"/><path d="M241.1,339.5 250.7,339.0 254.9,333.5 245.2,333.9Z"/><path d="M199.8,362.5 209.4,359.5 213.5,353.9 203.9,356.9Z"/><path d="M227.3,346.3 236.9,345.0 241.1,339.5 231.4,340.7Z"/><path d="M213.5,353.9 223.1,351.8 227.3,346.3 217.6,348.4Z"/><path d="M136.6,416.2 146.2,409.9 150.3,404.3 140.8,410.7Z"/><path d="M168.1,387.6 177.7,383.0 181.9,377.4 172.3,382.1Z"/><path d="M118.8,434.6 128.3,427.4 132.5,421.8 122.9,429.0Z"/><path d="M250.7,339.0 260.4,339.4 264.6,333.9 254.9,333.5Z"/><path d="M101.0,453.8 110.5,445.7 114.7,440.2 105.2,448.3Z"/><path d="M181.9,377.4 191.5,373.6 195.6,368.0 186.0,371.9Z"/><path d="M150.3,404.3 159.9,398.8 164.0,393.2 154.4,398.7Z"/><path d="M236.9,345.0 246.6,344.6 250.7,339.0 241.1,339.5Z"/><path d="M195.6,368.0 205.2,365.0 209.4,359.5 199.8,362.5Z"/><path d="M223.1,351.8 232.8,350.5 236.9,345.0 227.3,346.3Z"/><path d="M209.4,359.5 219.0,357.4 223.1,351.8 213.5,353.9Z"/><path d="M132.5,421.8 142.0,415.4 146.2,409.9 136.6,416.2Z"/><path d="M260.4,339.4 270.1,340.7 274.3,335.2 264.6,333.9Z"/><path d="M164.0,393.2 173.6,388.5 177.7,383.0 168.1,387.6Z"/><path d="M114.7,440.2 124.2,432.9 128.3,427.4 118.8,434.6Z"/><path d="M246.6,344.6 256.3,345.0 260.4,339.4 250.7,339.0Z"/><path d="M177.7,383.0 187.3,379.1 191.5,373.6 181.9,377.4Z"/><path d="M270.1,340.7 279.9,342.8 284.0,337.3 274.3,335.2Z"/><path d="M146.2,409.9 155.7,404.3 159.9,398.8 150.3,404.3Z"/><path d="M232.8,350.5 242.5,350.1 246.6,344.6 236.9,345.0Z"/><path d="M191.5,373.6 201.1,370.6 205.2,365.0 195.6,368.0Z"/><path d="M219.0,357.4 228.7,356.1 232.8,350.5 223.1,351.8Z"/><path d="M205.2,365.0 214.9,362.9 219.0,357.4 209.4,359.5Z"/><path d="M128.3,427.4 137.9,421.0 142.0,415.4 132.5,421.8Z"/><path d="M256.3,345.0 266.0,346.2 270.1,340.7 260.4,339.4Z"/><path d="M159.9,398.8 169.5,394.1 173.6,388.5 164.0,393.2Z"/><path d="M110.5,445.7 120.1,438.5 124.2,432.9 114.7,440.2Z"/><path d="M242.5,350.1 252.2,350.5 256.3,345.0 246.6,344.6Z"/><path d="M173.6,388.5 183.2,384.7 187.3,379.1 177.7,383.0Z"/><path d="M266.0,346.2 275.7,348.3 279.9,342.8 270.1,340.7Z"/><path d="M142.0,415.4 151.6,409.9 155.7,404.3 146.2,409.9Z"/><path d="M228.7,356.1 238.3,355.6 242.5,350.1 232.8,350.5Z"/><path d="M187.3,379.1 197.0,376.1 201.1,370.6 191.5,373.6Z"/><path d="M214.9,362.9 224.5,361.6 228.7,356.1 219.0,357.4Z"/><path d="M201.1,370.6 210.7,368.4 214.9,362.9 205.2,365.0Z"/><path d="M124.2,432.9 133.8,426.5 137.9,421.0 128.3,427.4Z"/><path d="M252.2,350.5 261.9,351.8 266.0,346.2 256.3,345.0Z"/><path d="M155.7,404.3 165.3,399.6 169.5,394.1 159.9,398.8Z"/><path d="M238.3,355.6 248.0,356.0 252.2,350.5 242.5,350.1Z"/><path d="M169.5,394.1 179.1,390.2 183.2,384.7 173.6,388.5Z"/><path d="M261.9,351.8 271.6,353.9 275.7,348.3 266.0,346.2Z"/><path d="M137.9,421.0 147.5,415.4 151.6,409.9 142.0,415.4Z"/><path d="M224.5,361.6 234.2,361.2 238.3,355.6 228.7,356.1Z"/><path d="M183.2,384.7 192.8,381.7 197.0,376.1 187.3,379.1Z"/><path d="M210.7,368.4 220.4,367.1 224.5,361.6 214.9,362.9Z"/><path d="M197.0,376.1 206.6,374.0 210.7,368.4 201.1,370.6Z"/><path d="M120.1,438.5 129.6,432.1 133.8,426.5 124.2,432.9Z"/><path d="M248.0,356.0 257.7,357.3 261.9,351.8 252.2,350.5Z"/><path d="M151.6,409.9 161.2,405.2 165.3,399.6 155.7,404.3Z"/><path d="M234.2,361.2 243.9,361.6 248.0,356.0 238.3,355.6Z"/><path d="M165.3,399.6 174.9,395.8 179.1,390.2 169.5,394.1Z"/><path d="M257.7,357.3 267.5,359.4 271.6,353.9 261.9,351.8Z"/><path d="M133.8,426.5 143.3,421.0 147.5,415.4 137.9,421.0Z"/><path d="M220.4,367.1 230.1,366.7 234.2,361.2 224.5,361.6Z"/><path d="M179.1,390.2 188.7,387.2 192.8,381.7 183.2,384.7Z"/><path d="M206.6,374.0 216.3,372.7 220.4,367.1 210.7,368.4Z"/><path d="M192.8,381.7 202.5,379.5 206.6,374.0 197.0,376.1Z"/><path d="M243.9,361.6 253.6,362.8 257.7,357.3 248.0,356.0Z"/><path d="M147.5,415.4 157.1,410.7 161.2,405.2 151.6,409.9Z"/><path d="M230.1,366.7 239.8,367.1 243.9,361.6 234.2,361.2Z"/><path d="M161.2,405.2 170.8,401.3 174.9,395.8 165.3,399.6Z"/><path d="M253.6,362.8 263.3,364.9 267.5,359.4 257.7,357.3Z"/><path d="M129.6,432.1 139.2,426.5 143.3,421.0 133.8,426.5Z"/><path d="M216.3,372.7 225.9,372.2 230.1,366.7 220.4,367.1Z"/><path d="M174.9,395.8 184.6,392.8 188.7,387.2 179.1,390.2Z"/><path d="M202.5,379.5 212.1,378.2 216.3,372.7 206.6,374.0Z"/><path d="M188.7,387.2 198.3,385.1 202.5,379.5 192.8,381.7Z"/><path d="M239.8,367.1 249.5,368.3 253.6,362.8 243.9,361.6Z"/><path d="M143.3,421.0 152.9,416.3 157.1,410.7 147.5,415.4Z"/><path d="M225.9,372.2 235.6,372.6 239.8,367.1 230.1,366.7Z"/><path d="M157.1,410.7 166.7,406.9 170.8,401.3 161.2,405.2Z"/><path d="M249.5,368.3 259.2,370.4 263.3,364.9 253.6,362.8Z"/><path d="M212.1,378.2 221.8,377.8 225.9,372.2 216.3,372.7Z"/><path d="M170.8,401.3 180.4,398.3 184.6,392.8 174.9,395.8Z"/><path d="M198.3,385.1 208.0,383.8 212.1,378.2 202.5,379.5Z"/><path d="M184.6,392.8 194.2,390.6 198.3,385.1 188.7,387.2Z"/><path d="M235.6,372.6 245.3,373.9 249.5,368.3 239.8,367.1Z"/><path d="M139.2,426.5 148.8,421.8 152.9,416.3 143.3,421.0Z"/><path d="M221.8,377.8 231.5,378.2 235.6,372.6 225.9,372.2Z"/><path d="M152.9,416.3 162.5,412.4 166.7,406.9 157.1,410.7Z"/><path d="M245.3,373.9 255.1,376.0 259.2,370.4 249.5,368.3Z"/><path d="M208.0,383.8 217.7,383.3 221.8,377.8 212.1,378.2Z"/><path d="M166.7,406.9 176.3,403.9 180.4,398.3 170.8,401.3Z"/><path d="M194.2,390.6 203.9,389.3 208.0,383.8 198.3,385.1Z"/><path d="M180.4,398.3 190.1,396.2 194.2,390.6 184.6,392.8Z"/><path d="M231.5,378.2 241.2,379.4 245.3,373.9 235.6,372.6Z"/><path d="M217.7,383.3 227.4,383.7 231.5,378.2 221.8,377.8Z"/><path d="M148.8,421.8 158.4,418.0 162.5,412.4 152.9,416.3Z"/><path d="M241.2,379.4 250.9,381.5 255.1,376.0 245.3,373.9Z"/><path d="M203.9,389.3 213.5,388.8 217.7,383.3 208.0,383.8Z"/><path d="M162.5,412.4 172.2,409.4 176.3,403.9 166.7,406.9Z"/><path d="M190.1,396.2 199.7,394.8 203.9,389.3 194.2,390.6Z"/><path d="M176.3,403.9 185.9,401.7 190.1,396.2 180.4,398.3Z"/><path d="M227.4,383.7 237.1,384.9 241.2,379.4 231.5,378.2Z"/><path d="M213.5,388.8 223.2,389.2 227.4,383.7 217.7,383.3Z"/><path d="M237.1,384.9 246.8,387.0 250.9,381.5 241.2,379.4Z"/><path d="M199.7,394.8 209.4,394.4 213.5,388.8 203.9,389.3Z"/><path d="M158.4,418.0 168.0,415.0 172.2,409.4 162.5,412.4Z"/><path d="M185.9,401.7 195.6,400.4 199.7,394.8 190.1,396.2Z"/><path d="M172.2,409.4 181.8,407.2 185.9,401.7 176.3,403.9Z"/><path d="M223.2,389.2 232.9,390.5 237.1,384.9 227.4,383.7Z"/><path d="M209.4,394.4 219.1,394.8 223.2,389.2 213.5,388.8Z"/><path d="M232.9,390.5 242.6,392.6 246.8,387.0 237.1,384.9Z"/><path d="M195.6,400.4 205.3,399.9 209.4,394.4 199.7,394.8Z"/><path d="M181.8,407.2 191.4,405.9 195.6,400.4 185.9,401.7Z"/><path d="M168.0,415.0 177.7,412.8 181.8,407.2 172.2,409.4Z"/><path d="M219.1,394.8 228.8,396.0 232.9,390.5 223.2,389.2Z"/><path d="M205.3,399.9 214.9,400.3 219.1,394.8 209.4,394.4Z"/><path d="M228.8,396.0 238.5,398.1 242.6,392.6 232.9,390.5Z"/><path d="M191.4,405.9 201.1,405.5 205.3,399.9 195.6,400.4Z"/><path d="M177.7,412.8 187.3,411.5 191.4,405.9 181.8,407.2Z"/><path d="M214.9,400.3 224.7,401.5 228.8,396.0 219.1,394.8Z"/><path d="M201.1,405.5 210.8,405.8 214.9,400.3 205.3,399.9Z"/><path d="M224.7,401.5 234.4,403.6 238.5,398.1 228.8,396.0Z"/><path d="M187.3,411.5 197.0,411.0 201.1,405.5 191.4,405.9Z"/><path d="M210.8,405.8 220.5,407.1 224.7,401.5 214.9,400.3Z"/><path d="M197.0,411.0 206.7,411.4 210.8,405.8 201.1,405.5Z"/><path d="M220.5,407.1 230.2,409.1 234.4,403.6 224.7,401.5Z"/><path d="M206.7,411.4 216.4,412.6 220.5,407.1 210.8,405.8Z"/><path d="M216.4,412.6 226.1,414.7 230.2,409.1 220.5,407.1Z"/></g>
<path d="M77.8,766.0 L221.3,789.3 M221.3,789.3 L282.3,726.3 M282.3,726.3 L138.8,703.0 M138.8,703.0 L77.8,766.0 M77.8,766.0 L75.8,668.0 M75.8,668.0 L136.8,605.0 M136.8,605.0 L280.3,628.3 M138.8,703.0 L136.8,605.0 M282.3,726.3 L280.3,628.3 M84.4,767.1 L82.5,769.1 M136.7,775.6 L134.8,777.6 M189.0,784.1 L187.1,786.1 M231.9,778.3 L234.7,778.8 M247.8,762.0 L250.5,762.4 M263.6,745.6 L266.4,746.1 M279.4,729.3 L282.2,729.7 M77.4,744.0 L74.6,743.6 M76.8,719.0 L74.1,718.6 M76.3,694.0 L73.6,693.6 M75.8,669.0 L73.1,668.6" fill="none" stroke="#aaaaaa" stroke-width="0.9"/>
<g fill="#d20000" stroke="#150000" stroke-width="0.85" stroke-linejoin="round"><path d="M139.3,704.8 148.4,703.8 152.2,698.9 143.2,699.9Z"/><path d="M148.4,703.8 157.5,702.4 161.3,697.5 152.2,698.9Z"/><path d="M135.5,709.4 144.5,708.4 148.4,703.8 139.3,704.8Z"/><path d="M157.5,702.4 166.5,700.6 170.4,695.7 161.3,697.5Z"/><path d="M144.5,708.4 153.6,707.0 157.5,702.4 148.4,703.8Z"/><path d="M131.6,713.7 140.7,712.7 144.5,708.4 135.5,709.4Z"/><path d="M166.5,700.6 175.6,698.4 179.4,693.6 170.4,695.7Z"/><path d="M153.6,707.0 162.6,705.2 166.5,700.6 157.5,702.4Z"/><path d="M140.7,712.7 149.7,711.3 153.6,707.0 144.5,708.4Z"/><path d="M127.7,717.8 136.8,716.7 140.7,712.7 131.6,713.7Z"/><path d="M175.6,698.4 184.6,695.9 188.5,691.0 179.4,693.6Z"/><path d="M162.6,705.2 171.7,703.0 175.6,698.4 166.5,700.6Z"/><path d="M149.7,711.3 158.8,709.5 162.6,705.2 153.6,707.0Z"/><path d="M136.8,716.7 145.8,715.4 149.7,711.3 140.7,712.7Z"/><path d="M123.8,721.6 132.9,720.6 136.8,716.7 127.7,717.8Z"/><path d="M171.7,703.0 180.7,700.5 184.6,695.9 175.6,698.4Z"/><path d="M184.6,695.9 193.6,692.9 197.5,688.1 188.5,691.0Z"/><path d="M158.8,709.5 167.8,707.3 171.7,703.0 162.6,705.2Z"/><path d="M145.8,715.4 154.9,713.6 158.8,709.5 149.7,711.3Z"/><path d="M132.9,720.6 142.0,719.2 145.8,715.4 136.8,716.7Z"/><path d="M119.9,725.1 129.0,724.1 132.9,720.6 123.8,721.6Z"/><path d="M180.7,700.5 189.8,697.5 193.6,692.9 184.6,695.9Z"/><path d="M167.8,707.3 176.9,704.8 180.7,700.5 171.7,703.0Z"/><path d="M193.6,692.9 202.7,689.6 206.5,684.7 197.5,688.1Z"/><path d="M154.9,713.6 163.9,711.4 167.8,707.3 158.8,709.5Z"/><path d="M142.0,719.2 151.0,717.4 154.9,713.6 145.8,715.4Z"/><path d="M129.0,724.1 138.1,722.7 142.0,719.2 132.9,720.6Z"/><path d="M116.0,728.4 125.1,727.4 129.0,724.1 119.9,725.1Z"/><path d="M176.9,704.8 185.9,701.8 189.8,697.5 180.7,700.5Z"/><path d="M163.9,711.4 173.0,708.8 176.9,704.8 167.8,707.3Z"/><path d="M189.8,697.5 198.8,694.2 202.7,689.6 193.6,692.9Z"/><path d="M151.0,717.4 160.1,715.2 163.9,711.4 154.9,713.6Z"/><path d="M202.7,689.6 211.7,685.9 215.5,681.0 206.5,684.7Z"/><path d="M138.1,722.7 147.1,720.9 151.0,717.4 142.0,719.2Z"/><path d="M125.1,727.4 134.2,726.0 138.1,722.7 129.0,724.1Z"/><path d="M112.1,731.4 121.2,730.4 125.1,727.4 116.0,728.4Z"/><path d="M173.0,708.8 182.0,705.9 185.9,701.8 176.9,704.8Z"/><path d="M185.9,701.8 194.9,698.5 198.8,694.2 189.8,697.5Z"/><path d="M160.1,715.2 169.1,712.7 173.0,708.8 163.9,711.4Z"/><path d="M198.8,694.2 207.8,690.4 211.7,685.9 202.7,689.6Z"/><path d="M147.1,720.9 156.2,718.7 160.1,715.2 151.0,717.4Z"/><path d="M211.7,685.9 220.7,681.7 224.5,676.9 215.5,681.0Z"/><path d="M134.2,726.0 143.2,724.2 147.1,720.9 138.1,722.7Z"/><path d="M121.2,730.4 130.3,729.0 134.2,726.0 125.1,727.4Z"/><path d="M182.0,705.9 191.0,702.6 194.9,698.5 185.9,701.8Z"/><path d="M169.1,712.7 178.1,709.7 182.0,705.9 173.0,708.8Z"/><path d="M194.9,698.5 203.9,694.8 207.8,690.4 198.8,694.2Z"/><path d="M156.2,718.7 165.2,716.2 169.1,712.7 160.1,715.2Z"/><path d="M108.2,734.1 117.3,733.1 121.2,730.4 112.1,731.4Z"/><path d="M207.8,690.4 216.8,686.3 220.7,681.7 211.7,685.9Z"/><path d="M143.2,724.2 152.3,722.0 156.2,718.7 147.1,720.9Z"/><path d="M220.7,681.7 229.7,677.2 233.5,672.4 224.5,676.9Z"/><path d="M130.3,729.0 139.3,727.2 143.2,724.2 134.2,726.0Z"/><path d="M117.3,733.1 126.4,731.7 130.3,729.0 121.2,730.4Z"/><path d="M178.1,709.7 187.2,706.4 191.0,702.6 182.0,705.9Z"/><path d="M191.0,702.6 200.1,698.8 203.9,694.8 194.9,698.5Z"/><path d="M165.2,716.2 174.2,713.2 178.1,709.7 169.1,712.7Z"/><path d="M203.9,694.8 212.9,690.7 216.8,686.3 207.8,690.4Z"/><path d="M152.3,722.0 161.3,719.5 165.2,716.2 156.2,718.7Z"/><path d="M104.3,736.6 113.4,735.6 117.3,733.1 108.2,734.1Z"/><path d="M216.8,686.3 225.8,681.8 229.7,677.2 220.7,681.7Z"/><path d="M139.3,727.2 148.4,725.0 152.3,722.0 143.2,724.2Z"/><path d="M229.7,677.2 238.7,672.3 242.5,667.5 233.5,672.4Z"/><path d="M126.4,731.7 135.4,730.0 139.3,727.2 130.3,729.0Z"/><path d="M113.4,735.6 122.5,734.2 126.4,731.7 117.3,733.1Z"/><path d="M187.2,706.4 196.2,702.6 200.1,698.8 191.0,702.6Z"/><path d="M174.2,713.2 183.3,709.9 187.2,706.4 178.1,709.7Z"/><path d="M200.1,698.8 209.1,694.7 212.9,690.7 203.9,694.8Z"/><path d="M161.3,719.5 170.4,716.5 174.2,713.2 165.2,716.2Z"/><path d="M212.9,690.7 221.9,686.2 225.8,681.8 216.8,686.3Z"/><path d="M148.4,725.0 157.4,722.5 161.3,719.5 152.3,722.0Z"/><path d="M100.4,738.9 109.5,737.8 113.4,735.6 104.3,736.6Z"/><path d="M225.8,681.8 234.8,676.9 238.7,672.3 229.7,677.2Z"/><path d="M135.4,730.0 144.5,727.8 148.4,725.0 139.3,727.2Z"/><path d="M238.7,672.3 247.7,667.1 251.5,662.2 242.5,667.5Z"/><path d="M122.5,734.2 131.5,732.4 135.4,730.0 126.4,731.7Z"/><path d="M183.3,709.9 192.3,706.2 196.2,702.6 187.2,706.4Z"/><path d="M170.4,716.5 179.4,713.2 183.3,709.9 174.2,713.2Z"/><path d="M196.2,702.6 205.2,698.5 209.1,694.7 200.1,698.8Z"/><path d="M157.4,722.5 166.5,719.5 170.4,716.5 161.3,719.5Z"/><path d="M109.5,737.8 118.6,736.5 122.5,734.2 113.4,735.6Z"/><path d="M209.1,694.7 218.1,690.2 221.9,686.2 212.9,690.7Z"/><path d="M144.5,727.8 153.5,725.2 157.4,722.5 148.4,725.0Z"/><path d="M221.9,686.2 230.9,681.3 234.8,676.9 225.8,681.8Z"/><path d="M131.5,732.4 140.6,730.3 144.5,727.8 135.4,730.0Z"/><path d="M96.5,740.8 105.6,739.8 109.5,737.8 100.4,738.9Z"/><path d="M234.8,676.9 243.8,671.7 247.7,667.1 238.7,672.3Z"/><path d="M118.6,736.5 127.6,734.7 131.5,732.4 122.5,734.2Z"/><path d="M247.7,667.1 256.6,661.4 260.5,656.5 251.5,662.2Z"/><path d="M179.4,713.2 188.4,709.5 192.3,706.2 183.3,709.9Z"/><path d="M192.3,706.2 201.3,702.1 205.2,698.5 196.2,702.6Z"/><path d="M166.5,719.5 175.5,716.2 179.4,713.2 170.4,716.5Z"/><path d="M205.2,698.5 214.2,694.0 218.1,690.2 209.1,694.7Z"/><path d="M153.5,725.2 162.6,722.3 166.5,719.5 157.4,722.5Z"/><path d="M218.1,690.2 227.1,685.3 230.9,681.3 221.9,686.2Z"/><path d="M105.6,739.8 114.6,738.4 118.6,736.5 109.5,737.8Z"/><path d="M140.6,730.3 149.6,727.7 153.5,725.2 144.5,727.8Z"/><path d="M230.9,681.3 239.9,676.0 243.8,671.7 234.8,676.9Z"/><path d="M127.6,734.7 136.7,732.5 140.6,730.3 131.5,732.4Z"/><path d="M92.6,742.5 101.6,741.5 105.6,739.8 96.5,740.8Z"/><path d="M243.8,671.7 252.8,666.0 256.6,661.4 247.7,667.1Z"/><path d="M188.4,709.5 197.4,705.3 201.3,702.1 192.3,706.2Z"/><path d="M175.5,716.2 184.5,712.5 188.4,709.5 179.4,713.2Z"/><path d="M114.6,738.4 123.7,736.6 127.6,734.7 118.6,736.5Z"/><path d="M201.3,702.1 210.3,697.6 214.2,694.0 205.2,698.5Z"/><path d="M162.6,722.3 171.6,718.9 175.5,716.2 166.5,719.5Z"/><path d="M256.6,661.4 265.6,655.3 269.5,650.5 260.5,656.5Z"/><path d="M214.2,694.0 223.2,689.1 227.1,685.3 218.1,690.2Z"/><path d="M149.6,727.7 158.6,724.8 162.6,722.3 153.5,725.2Z"/><path d="M227.1,685.3 236.0,680.1 239.9,676.0 230.9,681.3Z"/><path d="M101.6,741.5 110.7,740.1 114.6,738.4 105.6,739.8Z"/><path d="M136.7,732.5 145.7,729.9 149.6,727.7 140.6,730.3Z"/><path d="M239.9,676.0 248.9,670.3 252.8,666.0 243.8,671.7Z"/><path d="M123.7,736.6 132.7,734.5 136.7,732.5 127.6,734.7Z"/><path d="M88.6,743.9 97.7,742.9 101.6,741.5 92.6,742.5Z"/><path d="M252.8,666.0 261.7,659.9 265.6,655.3 256.6,661.4Z"/><path d="M184.5,712.5 193.5,708.4 197.4,705.3 188.4,709.5Z"/><path d="M197.4,705.3 206.4,700.8 210.3,697.6 201.3,702.1Z"/><path d="M171.6,718.9 180.6,715.2 184.5,712.5 175.5,716.2Z"/><path d="M210.3,697.6 219.3,692.7 223.2,689.1 214.2,694.0Z"/><path d="M158.6,724.8 167.7,721.4 171.6,718.9 162.6,722.3Z"/><path d="M110.7,740.1 119.8,738.3 123.7,736.6 114.6,738.4Z"/><path d="M223.2,689.1 232.2,683.9 236.0,680.1 227.1,685.3Z"/><path d="M145.7,729.9 154.7,727.0 158.6,724.8 149.6,727.7Z"/><path d="M236.0,680.1 245.0,674.4 248.9,670.3 239.9,676.0Z"/><path d="M132.7,734.5 141.8,731.9 145.7,729.9 136.7,732.5Z"/><path d="M97.7,742.9 106.8,741.5 110.7,740.1 101.6,741.5Z"/><path d="M248.9,670.3 257.9,664.3 261.7,659.9 252.8,666.0Z"/><path d="M119.8,738.3 128.8,736.2 132.7,734.5 123.7,736.6Z"/><path d="M193.5,708.4 202.5,703.8 206.4,700.8 197.4,705.3Z"/><path d="M180.6,715.2 189.6,711.1 193.5,708.4 184.5,712.5Z"/><path d="M206.4,700.8 215.4,695.9 219.3,692.7 210.3,697.6Z"/><path d="M167.7,721.4 176.7,717.7 180.6,715.2 171.6,718.9Z"/><path d="M219.3,692.7 228.3,687.4 232.2,683.9 223.2,689.1Z"/><path d="M154.7,727.0 163.8,723.6 167.7,721.4 158.6,724.8Z"/><path d="M106.8,741.5 115.8,739.8 119.8,738.3 110.7,740.1Z"/><path d="M232.2,683.9 241.1,678.2 245.0,674.4 236.0,680.1Z"/><path d="M141.8,731.9 150.8,728.9 154.7,727.0 145.7,729.9Z"/><path d="M245.0,674.4 254.0,668.3 257.9,664.3 248.9,670.3Z"/><path d="M128.8,736.2 137.9,733.6 141.8,731.9 132.7,734.5Z"/><path d="M189.6,711.1 198.6,706.6 202.5,703.8 193.5,708.4Z"/><path d="M176.7,717.7 185.7,713.6 189.6,711.1 180.6,715.2Z"/><path d="M202.5,703.8 211.5,699.0 215.4,695.9 206.4,700.8Z"/><path d="M115.8,739.8 124.9,737.6 128.8,736.2 119.8,738.3Z"/><path d="M163.8,723.6 172.8,719.9 176.7,717.7 167.7,721.4Z"/><path d="M215.4,695.9 224.4,690.7 228.3,687.4 219.3,692.7Z"/><path d="M150.8,728.9 159.8,725.6 163.8,723.6 154.7,727.0Z"/><path d="M228.3,687.4 237.2,681.7 241.1,678.2 232.2,683.9Z"/><path d="M137.9,733.6 146.9,730.6 150.8,728.9 141.8,731.9Z"/><path d="M241.1,678.2 250.1,672.1 254.0,668.3 245.0,674.4Z"/><path d="M124.9,737.6 133.9,735.0 137.9,733.6 128.8,736.2Z"/><path d="M185.7,713.6 194.7,709.1 198.6,706.6 189.6,711.1Z"/><path d="M198.6,706.6 207.6,701.7 211.5,699.0 202.5,703.8Z"/><path d="M172.8,719.9 181.8,715.8 185.7,713.6 176.7,717.7Z"/><path d="M211.5,699.0 220.5,693.7 224.4,690.7 215.4,695.9Z"/><path d="M159.8,725.6 168.8,721.9 172.8,719.9 163.8,723.6Z"/><path d="M224.4,690.7 233.4,685.0 237.2,681.7 228.3,687.4Z"/><path d="M146.9,730.6 155.9,727.3 159.8,725.6 150.8,728.9Z"/><path d="M237.2,681.7 246.2,675.7 250.1,672.1 241.1,678.2Z"/><path d="M133.9,735.0 143.0,732.1 146.9,730.6 137.9,733.6Z"/><path d="M194.7,709.1 203.7,704.2 207.6,701.7 198.6,706.6Z"/><path d="M181.8,715.8 190.8,711.3 194.7,709.1 185.7,713.6Z"/><path d="M207.6,701.7 216.6,696.4 220.5,693.7 211.5,699.0Z"/><path d="M168.8,721.9 177.9,717.8 181.8,715.8 172.8,719.9Z"/><path d="M220.5,693.7 229.5,688.0 233.4,685.0 224.4,690.7Z"/><path d="M155.9,727.3 164.9,723.6 168.8,721.9 159.8,725.6Z"/><path d="M233.4,685.0 242.3,678.9 246.2,675.7 237.2,681.7Z"/><path d="M143.0,732.1 152.0,728.7 155.9,727.3 146.9,730.6Z"/><path d="M190.8,711.3 199.8,706.4 203.7,704.2 194.7,709.1Z"/><path d="M203.7,704.2 212.7,698.9 216.6,696.4 207.6,701.7Z"/><path d="M177.9,717.8 186.9,713.3 190.8,711.3 181.8,715.8Z"/><path d="M216.6,696.4 225.6,690.8 229.5,688.0 220.5,693.7Z"/><path d="M164.9,723.6 173.9,719.5 177.9,717.8 168.8,721.9Z"/><path d="M229.5,688.0 238.4,681.9 242.3,678.9 233.4,685.0Z"/><path d="M152.0,728.7 161.0,725.0 164.9,723.6 155.9,727.3Z"/><path d="M199.8,706.4 208.8,701.1 212.7,698.9 203.7,704.2Z"/><path d="M186.9,713.3 195.9,708.4 199.8,706.4 190.8,711.3Z"/><path d="M212.7,698.9 221.6,693.2 225.6,690.8 216.6,696.4Z"/><path d="M173.9,719.5 182.9,715.0 186.9,713.3 177.9,717.8Z"/><path d="M225.6,690.8 234.5,684.7 238.4,681.9 229.5,688.0Z"/><path d="M161.0,725.0 170.0,720.9 173.9,719.5 164.9,723.6Z"/><path d="M195.9,708.4 204.8,703.1 208.8,701.1 199.8,706.4Z"/><path d="M182.9,715.0 191.9,710.1 195.9,708.4 186.9,713.3Z"/><path d="M208.8,701.1 217.7,695.5 221.6,693.2 212.7,698.9Z"/><path d="M170.0,720.9 179.0,716.4 182.9,715.0 173.9,719.5Z"/><path d="M221.6,693.2 230.6,687.2 234.5,684.7 225.6,690.8Z"/><path d="M191.9,710.1 200.9,704.8 204.8,703.1 195.9,708.4Z"/><path d="M204.8,703.1 213.8,697.4 217.7,695.5 208.8,701.1Z"/><path d="M179.0,716.4 188.0,711.5 191.9,710.1 182.9,715.0Z"/><path d="M217.7,695.5 226.7,689.4 230.6,687.2 221.6,693.2Z"/><path d="M200.9,704.8 209.9,699.1 213.8,697.4 204.8,703.1Z"/><path d="M188.0,711.5 197.0,706.2 200.9,704.8 191.9,710.1Z"/><path d="M213.8,697.4 222.8,691.4 226.7,689.4 217.7,695.5Z"/><path d="M197.0,706.2 206.0,700.5 209.9,699.1 200.9,704.8Z"/><path d="M209.9,699.1 218.9,693.0 222.8,691.4 213.8,697.4Z"/><path d="M206.0,700.5 214.9,694.5 218.9,693.0 209.9,699.1Z"/></g>
<text x="128.6" y="13.0" font-family="Liberation Serif" font-size="12" font-weight="bold" text-anchor="middle">g)</text>
<text x="228.4" y="9.9" font-family="Liberation Serif" font-size="12" letter-spacing="0.5">Hold values</text>
<text x="228.4" y="23.6" font-family="Liberation Serif" font-size="12" letter-spacing="0.6">Q=1.21 l/min</text>
<text transform="translate(51.4,93.3) scale(0.95,1)" font-family="Liberation Serif" font-size="9.6" text-anchor="middle" fill="#2a2a2a">96</text>
<text transform="translate(51.4,128.3) scale(0.95,1)" font-family="Liberation Serif" font-size="9.6" text-anchor="middle" fill="#2a2a2a">94</text>
<text transform="translate(51.4,163.7) scale(0.95,1)" font-family="Liberation Serif" font-size="9.6" text-anchor="middle" fill="#2a2a2a">92</text>
<text transform="translate(54.0,201.1) scale(0.95,1)" font-family="Liberation Serif" font-size="9.6" text-anchor="middle" fill="#2a2a2a">90</text>
<text transform="translate(19.5,142.0) scale(0.92,1)" font-family="Liberation Serif" font-size="10.5" font-weight="bold" text-anchor="middle">R2 (%)</text>
<text transform="translate(68.0,217.3) scale(0.95,1)" font-family="Liberation Serif" font-size="9.6" text-anchor="middle" fill="#2a2a2a">1.2</text>
<text transform="translate(116.6,226.8) scale(0.95,1)" font-family="Liberation Serif" font-size="9.6" text-anchor="middle" fill="#2a2a2a">1.5</text>
<text transform="translate(165.0,234.9) scale(0.95,1)" font-family="Liberation Serif" font-size="9.6" text-anchor="middle" fill="#2a2a2a">1.8</text>
<text transform="translate(212.7,242.6) scale(0.95,1)" font-family="Liberation Serif" font-size="9.6" text-anchor="middle" fill="#2a2a2a">2.1</text>
<text x="124.0" y="247.5" font-family="Liberation Serif" font-size="10.5" font-weight="bold" text-anchor="middle">P (bar)</text>
<text transform="translate(258.0,221.9) scale(0.95,1)" font-family="Liberation Serif" font-size="9.6" text-anchor="middle" fill="#2a2a2a">30</text>
<text transform="translate(275.5,205.1) scale(0.95,1)" font-family="Liberation Serif" font-size="9.6" text-anchor="middle" fill="#2a2a2a">40</text>
<text transform="translate(292.3,185.7) scale(0.95,1)" font-family="Liberation Serif" font-size="9.6" text-anchor="middle" fill="#2a2a2a">50</text>
<text transform="translate(309.8,167.6) scale(0.95,1)" font-family="Liberation Serif" font-size="9.6" text-anchor="middle" fill="#2a2a2a">60</text>
<text x="315.5" y="210.5" font-family="Liberation Serif" font-size="10.5" font-weight="bold" text-anchor="middle">T (°C)</text>
<text x="143.5" y="298.0" font-family="Liberation Serif" font-size="12" font-weight="bold" text-anchor="middle">i)</text>
<text x="239.3" y="288.4" font-family="Liberation Serif" font-size="11.2">Hold values</text>
<text x="239.3" y="300.6" font-family="Liberation Serif" font-size="11.2">P = 1.64 bar</text>
<text transform="translate(55.0,382.3) scale(0.95,1)" font-family="Liberation Serif" font-size="9.6" text-anchor="middle" fill="#2a2a2a">0.6</text>
<text transform="translate(55.0,411.3) scale(0.95,1)" font-family="Liberation Serif" font-size="9.6" text-anchor="middle" fill="#2a2a2a">0.4</text>
<text transform="translate(55.0,439.3) scale(0.95,1)" font-family="Liberation Serif" font-size="9.6" text-anchor="middle" fill="#2a2a2a">0.2</text>
<text transform="translate(57.0,467.3) scale(0.95,1)" font-family="Liberation Serif" font-size="9.6" text-anchor="middle" fill="#2a2a2a">0.0</text>
<text x="28.5" y="414.0" font-family="Liberation Serif" font-size="10.5" font-weight="bold" text-anchor="middle">R1</text>
<text transform="translate(75.0,485.3) scale(0.95,1)" font-family="Liberation Serif" font-size="9.6" text-anchor="middle" fill="#2a2a2a">0.5</text>
<text transform="translate(131.0,493.3) scale(0.95,1)" font-family="Liberation Serif" font-size="9.6" text-anchor="middle" fill="#2a2a2a">1.0</text>
<text transform="translate(186.9,503.3) scale(0.95,1)" font-family="Liberation Serif" font-size="9.6" text-anchor="middle" fill="#2a2a2a">1.5</text>
<text x="128.0" y="512.0" font-family="Liberation Serif" font-size="10.5" font-weight="bold" text-anchor="middle">Q (l/min)</text>
<text transform="translate(262.8,489.7) scale(0.95,1)" font-family="Liberation Serif" font-size="9.6" text-anchor="middle" fill="#2a2a2a">30</text>
<text transform="translate(280.3,472.7) scale(0.95,1)" font-family="Liberation Serif" font-size="9.6" text-anchor="middle" fill="#2a2a2a">40</text>
<text transform="translate(296.7,455.2) scale(0.95,1)" font-family="Liberation Serif" font-size="9.6" text-anchor="middle" fill="#2a2a2a">50</text>
<text transform="translate(314.2,439.5) scale(0.95,1)" font-family="Liberation Serif" font-size="9.6" text-anchor="middle" fill="#2a2a2a">60</text>
<text x="317.0" y="472.5" font-family="Liberation Serif" font-size="10.5" font-weight="bold" text-anchor="middle">T (°C)</text>
<text x="137.0" y="597.0" font-family="Liberation Serif" font-size="12" font-weight="bold" text-anchor="middle">k)</text>
<text x="219.9" y="581.1" font-family="Liberation Serif" font-size="11.2">Hold values</text>
<text x="219.9" y="593.5" font-family="Liberation Serif" font-size="11.2">P = 1.64 bar</text>
<text transform="translate(51.4,667.7) scale(0.95,1)" font-family="Liberation Serif" font-size="9.6" text-anchor="middle" fill="#2a2a2a">97.5</text>
<text transform="translate(52.8,693.8) scale(0.95,1)" font-family="Liberation Serif" font-size="9.6" text-anchor="middle" fill="#2a2a2a">95.0</text>
<text transform="translate(52.8,720.0) scale(0.95,1)" font-family="Liberation Serif" font-size="9.6" text-anchor="middle" fill="#2a2a2a">92.5</text>
<text transform="translate(52.8,745.2) scale(0.95,1)" font-family="Liberation Serif" font-size="9.6" text-anchor="middle" fill="#2a2a2a">90.0</text>
<text transform="translate(18.0,710.5) scale(0.92,1)" font-family="Liberation Serif" font-size="10.5" font-weight="bold" text-anchor="middle">R2 (%)</text>
<text transform="translate(72.4,780.3) scale(0.95,1)" font-family="Liberation Serif" font-size="9.6" text-anchor="middle" fill="#2a2a2a">0.5</text>
<text transform="translate(126.2,788.9) scale(0.95,1)" font-family="Liberation Serif" font-size="9.6" text-anchor="middle" fill="#2a2a2a">1.0</text>
<text transform="translate(178.0,798.3) scale(0.95,1)" font-family="Liberation Serif" font-size="9.6" text-anchor="middle" fill="#2a2a2a">1.5</text>
<text x="122.6" y="809.0" font-family="Liberation Serif" font-size="10.5" font-weight="bold" text-anchor="middle">Q (l/min)</text>
<text transform="translate(249.3,784.9) scale(0.95,1)" font-family="Liberation Serif" font-size="9.6" text-anchor="middle" fill="#2a2a2a">30</text>
<text transform="translate(266.1,767.9) scale(0.95,1)" font-family="Liberation Serif" font-size="9.6" text-anchor="middle" fill="#2a2a2a">40</text>
<text transform="translate(282.0,751.5) scale(0.95,1)" font-family="Liberation Serif" font-size="9.6" text-anchor="middle" fill="#2a2a2a">50</text>
<text transform="translate(297.7,735.9) scale(0.95,1)" font-family="Liberation Serif" font-size="9.6" text-anchor="middle" fill="#2a2a2a">60</text>
<text x="306.0" y="768.5" font-family="Liberation Serif" font-size="10.5" font-weight="bold" text-anchor="middle">T (°C)</text>
<circle cx="301.5" cy="753.4" r="0.7" fill="#444"/><circle cx="277.6" cy="782.3" r="0.7" fill="#444"/>
<rect x="608.4" y="114.8" width="0.9" height="2.6" fill="#e0a060"/>
</svg></body></html>
